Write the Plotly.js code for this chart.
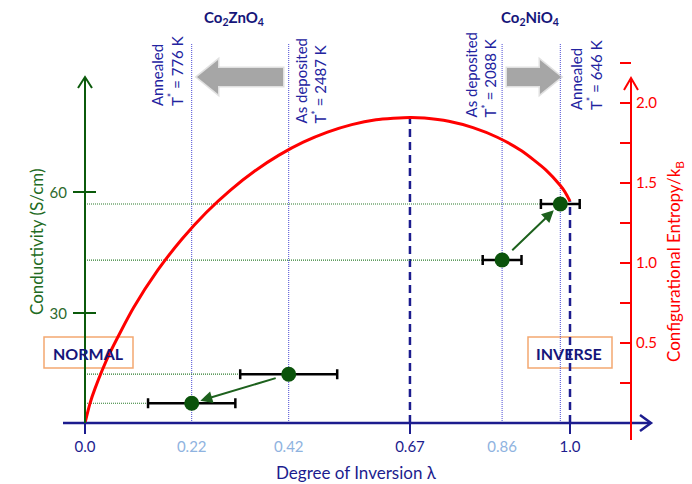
<!DOCTYPE html>
<html><head><meta charset="utf-8">
<script src="https://cdn.plot.ly/plotly-3.0.1.min.js"></script>
<style>html,body{margin:0;padding:0;background:#fff;}#chart{width:692px;height:484px;}</style>
</head><body><div id="chart"></div>
<script>
// ---- data ----
const curveLambda  = [0, 0.01, 0.02, 0.05, 0.1, 0.15, 0.2, 0.25, 0.3, 0.35, 0.4, 0.45, 0.5, 0.55, 0.6, 0.67, 0.7, 0.75, 0.8, 0.85, 0.9, 0.95, 0.98, 0.99, 1.0];
const curveEntropy = [0, 0.12, 0.21, 0.43, 0.72, 0.955, 1.15, 1.316, 1.456, 1.575, 1.674, 1.755, 1.818, 1.865, 1.895, 1.91, 1.906, 1.886, 1.846, 1.786, 1.701, 1.582, 1.484, 1.442, 1.386];

const sampleNames        = ['Co2ZnO4 annealed', 'Co2ZnO4 as deposited', 'Co2NiO4 as deposited', 'Co2NiO4 annealed'];
const sampleLambda       = [0.22, 0.42, 0.86, 0.98];
const sampleLambdaErr    = [0.09, 0.10, 0.04, 0.04];
const sampleConductivity = [7.7, 14.9, 43.2, 57.1];

const xMajorVals = [0, 0.67, 1.0];
const xMajorText = ['0.0', '0.67', '1.0'];
const xMinorVals = [0.22, 0.42, 0.86];
const xMinorText = ['0.22', '0.42', '0.86'];
const condTickVals = [30, 60];
const condTickText = ['30', '60'];
const entTickVals = [0.5, 1.0, 1.5, 2.0];
const entTickText = ['0.5', '1.0', '1.5', '2.0'];
const entMinorStep = 0.25;

const guideLambda = [0.22, 0.42, 0.86, 0.98];
const guideText = ['Annealed<br>T<sup>*</sup> = 776 K', 'As deposited<br>T<sup>*</sup> = 2487 K',
                   'As deposited<br>T<sup>*</sup> = 2088 K', 'Annealed<br>T<sup>*</sup> = 646 K'];
const peakLambda = 0.67;
const inverseLambda = 1.0;

// ---- layout geometry (pixels) ----
const L = 85, R = 631, T = 40, B = 423;
const px = x => (x - L) / (R - L);
const py = y => (B - y) / (B - T);
const P = (x, y) => px(x).toFixed(5) + ',' + py(y).toFixed(5);

const NAVY = '#1c1c8e', GREEN = '#0b5a0b', RED = '#ff0000';
const FONT = 'Lato, "Open Sans", sans-serif';

const xRange = [0, (R - L) / 485];
const entRange = [0, (B - T) / 160];
const condRange = [(434.3 - B) / 4.0333, (434.3 - T) / 4.0333];

const traces = [
  { x: curveLambda, y: curveEntropy, xaxis: 'x', yaxis: 'y', mode: 'lines',
    line: { color: RED, width: 3, shape: 'spline', smoothing: 0.6 }, hoverinfo: 'skip' },
  { x: sampleLambda, y: sampleConductivity, text: sampleNames, xaxis: 'x', yaxis: 'y2', mode: 'markers',
    marker: { size: 15, color: '#0b530b' },
    error_x: { type: 'data', array: sampleLambdaErr, color: '#000', thickness: 2.5, width: 5 } },
  { x: [null], y: [null], xaxis: 'x2', yaxis: 'y', mode: 'markers', hoverinfo: 'skip' },
  { x: [null], y: [null], xaxis: 'x', yaxis: 'y3', mode: 'markers', hoverinfo: 'skip' }
];

const shapes = [];
// orange boxes
[[44, 337, 133, 368], [528, 337, 612, 368]].forEach(b => shapes.push({
  type: 'rect', xref: 'paper', yref: 'paper', x0: px(b[0]), x1: px(b[2]), y0: py(b[3]), y1: py(b[1]),
  line: { color: '#f4a870', width: 1.5 }, fillcolor: '#ffffff', layer: 'below' }));
// dotted guide lines
guideLambda.forEach(l => shapes.push({
  type: 'line', xref: 'x', yref: 'paper', x0: l, x1: l, y0: 0, y1: py(43),
  line: { color: '#4b4bd4', width: 1, dash: '1px,1px' }, layer: 'below' }));
// dashed lines at peak and inverse
const peakIdx = curveLambda.indexOf(peakLambda), invIdx = curveLambda.indexOf(inverseLambda);
shapes.push({ type: 'line', xref: 'x', yref: 'y', x0: peakLambda, x1: peakLambda, y0: 0, y1: curveEntropy[peakIdx],
  line: { color: NAVY, width: 2.5, dash: '8px,5px' }, layer: 'below' });
shapes.push({ type: 'line', xref: 'x', yref: 'y', x0: inverseLambda, x1: inverseLambda, y0: 0, y1: curveEntropy[invIdx],
  line: { color: NAVY, width: 2.5, dash: '8px,5px' }, layer: 'below' });
// green dotted horizontals
sampleLambda.forEach((l, i) => shapes.push({
  type: 'line', xref: 'x', yref: 'y2', x0: 0, x1: l - sampleLambdaErr[i], y0: sampleConductivity[i], y1: sampleConductivity[i],
  line: { color: '#2e7d2e', width: 1.2, dash: '1px,1px' }, layer: 'below' }));
// grey block arrows (soft edge)
const leftArrow = 'M' + P(197, 77) + 'L' + P(218, 60) + 'L' + P(218, 68) + 'L' + P(283, 68) + 'L' + P(283, 86) + 'L' + P(218, 86) + 'L' + P(218, 94) + 'Z';
const rightArrow = 'M' + P(507, 68) + 'L' + P(540, 68) + 'L' + P(540, 60) + 'L' + P(561, 77) + 'L' + P(540, 94) + 'L' + P(540, 86) + 'L' + P(507, 86) + 'Z';
[leftArrow, rightArrow].forEach(p => shapes.push({ type: 'path', xref: 'paper', yref: 'paper', fillcolor: '#a6a6a6',
  line: { width: 3, color: 'rgba(166,166,166,0.35)' }, path: p }));
// axis lines with open arrowheads
shapes.push({ type: 'line', xref: 'paper', yref: 'paper', x0: px(63), x1: px(650), y0: 0, y1: 0, line: { color: NAVY, width: 2.5 } });
shapes.push({ type: 'path', xref: 'paper', yref: 'paper', line: { color: NAVY, width: 2.5 },
  path: 'M' + P(640, 415) + 'L' + P(651, 423) + 'L' + P(640, 431) });
shapes.push({ type: 'line', xref: 'paper', yref: 'paper', x0: 0, x1: 0, y0: 0, y1: py(77), line: { color: GREEN, width: 2 } });
shapes.push({ type: 'path', xref: 'paper', yref: 'paper', line: { color: GREEN, width: 2 },
  path: 'M' + P(78, 88) + 'L' + P(85, 77) + 'L' + P(92, 88) });
shapes.push({ type: 'line', xref: 'paper', yref: 'paper', x0: 1, x1: 1, y0: py(440), y1: py(78), line: { color: RED, width: 2 } });
shapes.push({ type: 'path', xref: 'paper', yref: 'paper', line: { color: RED, width: 2 },
  path: 'M' + P(624, 90) + 'L' + P(631, 78) + 'L' + P(638, 90) });

const annotations = [];
const A = (x, y, text, font, extra) => Object.assign({
  xref: 'paper', yref: 'paper', x: px(x), y: py(y), xanchor: 'center', yanchor: 'middle',
  text: text, showarrow: false, font: Object.assign({ family: FONT }, font) }, extra || {});
// rotated guide labels
const labelPos = [[167, 108], [310, 126], [480, 120], [586, 112]];
guideText.forEach((t, i) => annotations.push(A(labelPos[i][0], labelPos[i][1], t,
  { size: 15, color: '#2323a0' }, { yanchor: 'bottom', textangle: -90, align: 'left' })));
// compound titles
annotations.push(A(234, 18, '<b>Co<sub>2</sub>ZnO<sub>4</sub></b>', { size: 15, color: '#15157a' }));
annotations.push(A(530, 18, '<b>Co<sub>2</sub>NiO<sub>4</sub></b>', { size: 15, color: '#15157a' }));
// box texts
annotations.push(A(88, 353, '<b>NORMAL</b>', { size: 16, color: '#15157a' }));
annotations.push(A(569, 353, '<b>INVERSE</b>', { size: 16, color: '#15157a' }));
// axis titles
annotations.push(A(36, 242, 'Conductivity (S/cm)', { size: 17, color: '#226b22' }, { textangle: -90 }));
annotations.push(A(675, 262, 'Configurational Entropy/k<sub>B</sub>', { size: 17, color: RED }, { textangle: -90 }));
annotations.push(A(356, 472, 'Degree of Inversion λ', { size: 17, color: NAVY }));
// green arrows between samples
[[1, 0], [2, 3]].forEach(([from, to]) => annotations.push({
  xref: 'x', yref: 'y2', axref: 'x', ayref: 'y2', x: sampleLambda[to], y: sampleConductivity[to],
  ax: sampleLambda[from], ay: sampleConductivity[from], text: '', showarrow: true,
  arrowhead: 2, arrowsize: 1.2, arrowwidth: 2, arrowcolor: '#1d611d', standoff: 9, startstandoff: 12 }));

const layout = {
  width: 692, height: 484, showlegend: false,
  margin: { l: L, r: 692 - R, t: T, b: 484 - B, pad: 0 },
  paper_bgcolor: '#ffffff', plot_bgcolor: 'rgba(0,0,0,0)',
  font: { family: FONT },
  xaxis: { range: xRange, showgrid: false, zeroline: false, showline: false,
    tickmode: 'array', tickvals: xMajorVals, ticktext: xMajorText, ticks: 'outside', ticklen: 10, tickwidth: 2.5, tickcolor: NAVY,
    tickfont: { family: FONT, size: 15, color: NAVY } },
  xaxis2: { range: xRange, overlaying: 'x', anchor: 'y', side: 'bottom', showgrid: false, zeroline: false, showline: false,
    tickmode: 'array', tickvals: xMinorVals, ticktext: xMinorText, ticks: 'outside', ticklen: 10, tickwidth: 0, tickcolor: 'rgba(0,0,0,0)',
    tickfont: { family: FONT, size: 15, color: '#8fb3e0' } },
  yaxis: { range: entRange, side: 'right', anchor: 'x', showgrid: false, zeroline: false, showline: false,
    tickmode: 'array', tickvals: entTickVals, ticktext: entTickText, ticks: 'inside', ticklen: 11, tickwidth: 2, tickcolor: RED,
    minor: { dtick: entMinorStep, tick0: 0, ticks: 'inside', ticklen: 11, tickwidth: 2, tickcolor: RED, showgrid: false },
    ticklabelstandoff: 4, tickfont: { family: FONT, size: 15, color: RED } },
  yaxis2: { range: condRange, overlaying: 'y', side: 'left', anchor: 'x', showgrid: false, zeroline: false, showline: false,
    tickmode: 'array', tickvals: condTickVals, ticktext: condTickText, ticks: 'outside', ticklen: 11, tickwidth: 2, tickcolor: GREEN,
    ticklabelstandoff: 3, tickfont: { family: FONT, size: 15, color: '#2d6a2d' } },
  yaxis3: { range: condRange, overlaying: 'y', side: 'left', anchor: 'x', showgrid: false, zeroline: false, showline: false,
    tickmode: 'array', tickvals: condTickVals, ticks: 'inside', ticklen: 11, tickwidth: 2, tickcolor: GREEN,
    showticklabels: false },
  shapes: shapes, annotations: annotations
};

Plotly.newPlot('chart', traces, layout, { displayModeBar: false, staticPlot: true });
</script></body></html>
